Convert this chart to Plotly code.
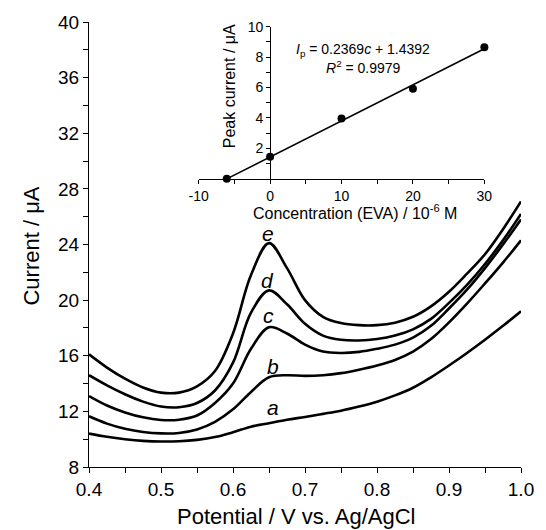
import plotly.graph_objects as go

# ---------------- data ----------------
potential = [0.400, 0.425, 0.450, 0.475, 0.500, 0.525, 0.550, 0.575, 0.600, 0.625, 0.650,
             0.675, 0.700, 0.725, 0.750, 0.775, 0.800, 0.825, 0.850, 0.875, 0.900, 0.925,
             0.950, 0.975, 1.000]
curve_a = [10.4, 10.17, 10.0, 9.88, 9.83, 9.85, 9.95, 10.15, 10.5, 10.9, 11.15,
           11.4, 11.6, 11.82, 12.05, 12.35, 12.7, 13.15, 13.7, 14.45, 15.3, 16.2,
           17.15, 18.15, 19.2]
curve_b = [11.65, 11.12, 10.75, 10.52, 10.42, 10.45, 10.7, 11.25, 12.15, 13.4, 14.45,
           14.6, 14.55, 14.6, 14.75, 15.0, 15.3, 15.7, 16.3, 17.2, 18.4, 19.75,
           21.2, 22.7, 24.3]
curve_c = [13.1, 12.42, 11.92, 11.57, 11.38, 11.4, 11.7, 12.6, 14.0, 16.5, 18.05,
           17.6, 16.8, 16.3, 16.2, 16.28, 16.5, 16.8, 17.3, 18.15, 19.4, 20.75,
           22.3, 24.0, 25.8]
curve_d = [14.6, 13.87, 13.23, 12.7, 12.35, 12.3, 12.6, 13.5, 15.5, 19.1, 20.7,
           19.7, 18.3, 17.45, 17.15, 17.1, 17.2, 17.45, 17.9, 18.65, 19.8, 21.1,
           22.6, 24.3, 26.2]
curve_e = [16.1, 15.15, 14.35, 13.72, 13.35, 13.35, 13.8, 14.9, 17.6, 21.8, 24.1,
           22.3, 20.0, 18.8, 18.35, 18.2, 18.2, 18.38, 18.8, 19.55, 20.6, 21.9,
           23.3, 25.1, 27.1]
curves = [curve_a, curve_b, curve_c, curve_d, curve_e]
curve_names = ["a", "b", "c", "d", "e"]
label_x = [0.656, 0.656, 0.649, 0.648, 0.649]
label_y = [12.3, 15.2, 18.9, 21.4, 24.8]

main_x_ticks = [0.40, 0.45, 0.50, 0.55, 0.60, 0.65, 0.70, 0.75, 0.80, 0.85, 0.90, 0.95, 1.00]
main_x_text = ["0.4", "", "0.5", "", "0.6", "", "0.7", "", "0.8", "", "0.9", "", "1.0"]
main_y_ticks = list(range(8, 41, 2))
main_y_text = [str(v) if v % 4 == 0 else "" for v in main_y_ticks]

# inset: calibration
conc = [-6.07, 0, 10, 20, 30]
peak = [0.0, 1.45, 3.96, 5.92, 8.65]
fit_conc = [-6.07, 30]
fit_peak = [0.0, 8.55]
inset_x_ticks = [-10, -5, 0, 5, 10, 15, 20, 25, 30]
inset_x_text = ["-10", "", "0", "", "10", "", "20", "", "30"]
inset_y_ticks = [1, 2, 3, 4, 5, 6, 7, 8, 9, 10]
inset_y_text = ["", "2", "", "4", "", "6", "", "8", "", "10"]

FONT = "Liberation Sans, Arial, sans-serif"

fig = go.Figure()
for ys in curves:
    fig.add_trace(go.Scatter(x=potential, y=ys, mode="lines",
                             line=dict(color="black", width=2.6, shape="spline",
                                       smoothing=1.0, simplify=False),
                             showlegend=False, hoverinfo="skip"))

fig.add_trace(go.Scatter(x=fit_conc, y=fit_peak, mode="lines", xaxis="x2", yaxis="y2",
                         line=dict(color="black", width=1.5), showlegend=False,
                         cliponaxis=False))
fig.add_trace(go.Scatter(x=conc, y=peak, mode="markers", xaxis="x2", yaxis="y2",
                         marker=dict(color="black", size=8), showlegend=False,
                         cliponaxis=False))

axis_common = dict(showline=True, linecolor="black", linewidth=1, ticks="outside",
                   tickcolor="black", tickwidth=1, showgrid=False, zeroline=False,
                   tickfont=dict(family=FONT, size=19, color="black"))

fig.update_layout(
    width=546, height=530,
    margin=dict(l=89, r=17, t=21, b=63),
    paper_bgcolor="white", plot_bgcolor="white",
    xaxis=dict(range=[0.4, 1.0], domain=[0, 1], tickvals=main_x_ticks,
               ticktext=main_x_text, ticklen=5, **axis_common),
    yaxis=dict(range=[8, 40], domain=[0, 1], tickvals=main_y_ticks,
               ticktext=main_y_text, ticklen=5, **axis_common),
    xaxis2=dict(range=[-10, 30], domain=[0.2539, 0.9152], anchor="y2",
                tickvals=inset_x_ticks, ticktext=inset_x_text, ticklen=4,
                showline=True, linecolor="black", linewidth=1, ticks="outside",
                tickcolor="black", showgrid=False, zeroline=False,
                tickfont=dict(family=FONT, size=14, color="black")),
    yaxis2=dict(range=[0, 10], domain=[0.6475, 0.9895], anchor="free", position=0.4191,
                tickvals=inset_y_ticks, ticktext=inset_y_text, ticklen=4,
                showline=True, linecolor="black", linewidth=1, ticks="outside",
                tickcolor="black", showgrid=False, zeroline=False,
                tickfont=dict(family=FONT, size=14, color="black")),
)

ann = []
for name, lx, ly in zip(curve_names, label_x, label_y):
    ann.append(dict(x=lx, y=ly, xref="x", yref="y", text=f"<i>{name}</i>", showarrow=False,
                    font=dict(family=FONT, size=21, color="black")))
# axis titles
ann.append(dict(x=300, y=517, xref="paper", yref="paper", text="Potential / V vs. Ag/AgCl",
                showarrow=False, font=dict(family=FONT, size=22, color="black")))
ann.append(dict(x=30, y=246, xref="paper", yref="paper", text="Current / μA", textangle=-90,
                showarrow=False, font=dict(family=FONT, size=22, color="black")))
# inset titles & equation
ann.append(dict(x=360, y=211, xref="paper", yref="paper",
                text="Concentration (EVA) / 10<sup>-6</sup> M",
                showarrow=False, font=dict(family=FONT, size=16, color="black")))
ann.append(dict(x=232, y=85, xref="paper", yref="paper", text="Peak current / μA", textangle=-90,
                showarrow=False, font=dict(family=FONT, size=16, color="black")))
ann.append(dict(x=13.05, y=8.45, xref="x2", yref="y2",
                text="<i>I</i><sub>p</sub> = 0.2369<i>c</i> + 1.4392",
                showarrow=False, font=dict(family=FONT, size=14, color="black")))
ann.append(dict(x=13.05, y=7.36, xref="x2", yref="y2",
                text="<i>R</i><sup>2</sup> = 0.9979",
                showarrow=False, font=dict(family=FONT, size=14, color="black")))

# convert pixel-positioned annotations to paper coords
W, H, L, R, T, B = 546, 530, 89, 17, 21, 63
pw, ph = W - L - R, H - T - B
for a in ann:
    if a["xref"] == "paper":
        a["x"] = (a["x"] - L) / pw
        a["y"] = (H - B - a["y"]) / ph
        a["xanchor"] = "center"
        a["yanchor"] = "middle"
fig.update_layout(annotations=ann)

fig.write_html("out.html")
